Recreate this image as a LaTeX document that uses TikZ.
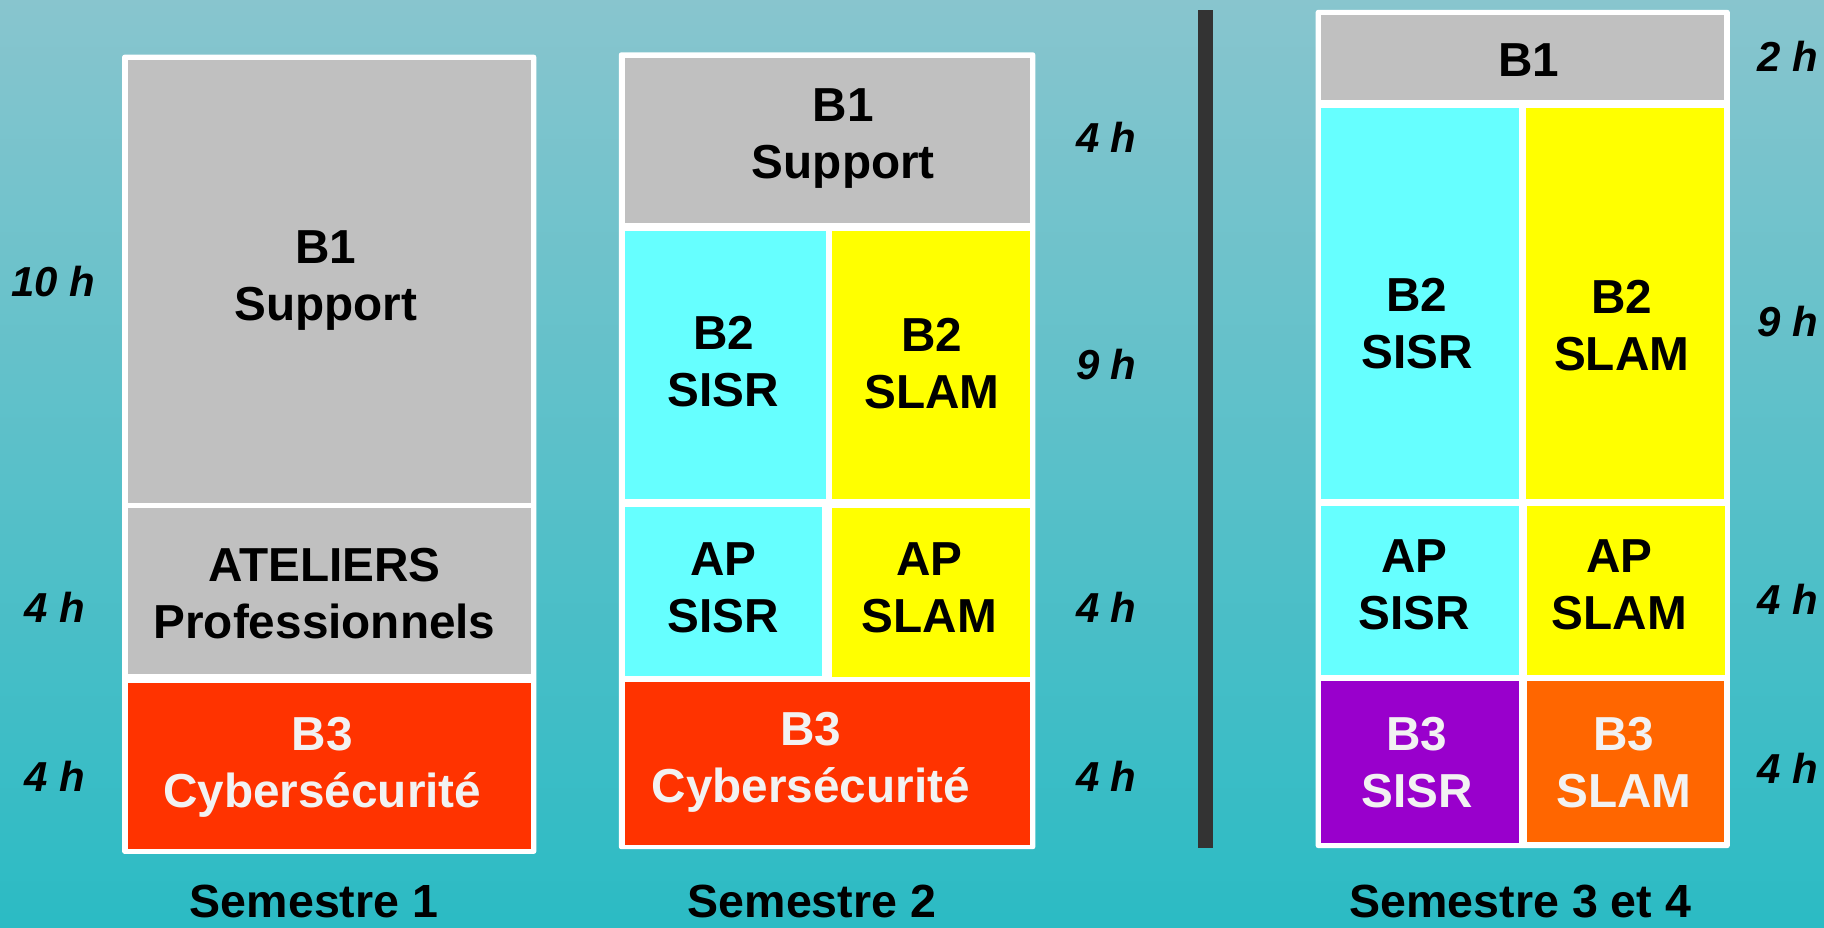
\documentclass[tikz,border=0pt]{standalone}
\usepackage{fontspec}
\setmainfont{Liberation Sans}
\definecolor{bgtop}{RGB}{136,197,206}
\definecolor{bgbot}{RGB}{43,187,196}
\definecolor{cgray}{RGB}{192,192,192}
\definecolor{ccyan}{RGB}{102,255,255}
\definecolor{cyel}{RGB}{255,255,0}
\definecolor{cred}{RGB}{255,51,0}
\definecolor{cpurp}{RGB}{153,0,204}
\definecolor{corange}{RGB}{255,102,0}
\definecolor{cbar}{RGB}{51,51,51}
\definecolor{offwhite}{RGB}{242,242,242}
\begin{document}
\begin{tikzpicture}[x=1pt,y=-1pt,
  lbl/.style={align=center,anchor=north,font=\fontsize{41}{49}\selectfont\bfseries,text=black,inner sep=0pt},
  wlbl/.style={lbl,text=offwhite},
  hr/.style={anchor=north,font=\fontsize{36}{40}\selectfont\bfseries\itshape,text=black,inner sep=0pt},
  sem/.style={anchor=north,font=\fontsize{40}{48}\selectfont\bfseries,text=black,inner sep=0pt},
  frame/.style={fill=white,rounded corners=2pt}]
\useasboundingbox (0,0) rectangle (1568,797);
\shade[top color=bgtop,bottom color=bgbot] (0,0) rectangle (1568,797);

% ---------- Semestre 1 ----------
\fill[frame] (105,47) rectangle (461,734);
\fill[cgray] (110,51.5) rectangle (456.5,432.5);
\fill[cgray] (110,437) rectangle (456.5,579);
\fill[cred] (110,587) rectangle (456.5,730);
\node[lbl] (s1b1) at (280,198) {B1\\Support};
\node[lbl] (s1at) at (279,471) {ATELIERS\\Professionnels};
\node[wlbl] (s1b3) at (277,616) {B3\\Cybersécurité};
\node[hr] (s1h1) at (46,229) {10 h};
\node[hr] (s1h2) at (47,509) {4 h};
\node[hr] (s1h3) at (47,654) {4 h};
\node[sem] (sem1) at (270,761) {Semestre 1};

% ---------- Semestre 2 ----------
\fill[frame] (532,45) rectangle (890,730);
\fill[cgray] (537,50) rectangle (885,192);
\fill[ccyan] (537,199) rectangle (710,429);
\fill[cyel] (715,199) rectangle (885,429);
\fill[ccyan] (537,436) rectangle (707,581);
\fill[cyel] (715,437) rectangle (885,582);
\fill[cred] (537,586) rectangle (885,726);
\node[lbl] (s2b1) at (725,76) {B1\\Support};
\node[lbl] (s2b2a) at (622,272) {B2\\SISR};
\node[lbl] (s2b2b) at (801,273) {B2\\SLAM};
\node[lbl] (s2apa) at (622,466) {AP\\SISR};
\node[lbl] (s2apb) at (799,466) {AP\\SLAM};
\node[wlbl] (s2b3) at (697,612) {B3\\Cybersécurité};
\node[hr] (s2h1) at (951,105) {4 h};
\node[hr] (s2h2) at (951,300) {9 h};
\node[hr] (s2h3) at (951,509) {4 h};
\node[hr] (s2h4) at (951,654) {4 h};
\node[sem] (sem2) at (698,761) {Semestre 2};

% ---------- separator ----------
\fill[cbar] (1030,8.5) rectangle (1043,729);

% ---------- Semestre 3 et 4 ----------
\fill[frame] (1131,8.5) rectangle (1487,729);
\fill[cgray] (1135.5,13) rectangle (1482,86);
\fill[ccyan] (1135.5,93) rectangle (1306,429);
\fill[cyel] (1312,93) rectangle (1482,429);
\fill[ccyan] (1135.5,435) rectangle (1306,580);
\fill[cyel] (1313,435) rectangle (1483,580);
\fill[cpurp] (1135.5,585) rectangle (1306,725);
\fill[corange] (1313,585) rectangle (1482,724);
\node[lbl] (s3b1) at (1314,37) {B1};
\node[lbl] (s3b2a) at (1218,239) {B2\\SISR};
\node[lbl] (s3b2b) at (1394,241) {B2\\SLAM};
\node[lbl] (s3apa) at (1216,464) {AP\\SISR};
\node[lbl] (s3apb) at (1392,464) {AP\\SLAM};
\node[wlbl] (s3b3a) at (1218,616) {B3\\SISR};
\node[wlbl] (s3b3b) at (1396,616) {B3\\SLAM};
\node[hr] (s3h1) at (1537,35) {2 h};
\node[hr] (s3h2) at (1537,263) {9 h};
\node[hr] (s3h3) at (1537,502) {4 h};
\node[hr] (s3h4) at (1537,647) {4 h};
\node[sem] (sem3) at (1307,761) {Semestre 3 et 4};
\end{tikzpicture}
\end{document}
